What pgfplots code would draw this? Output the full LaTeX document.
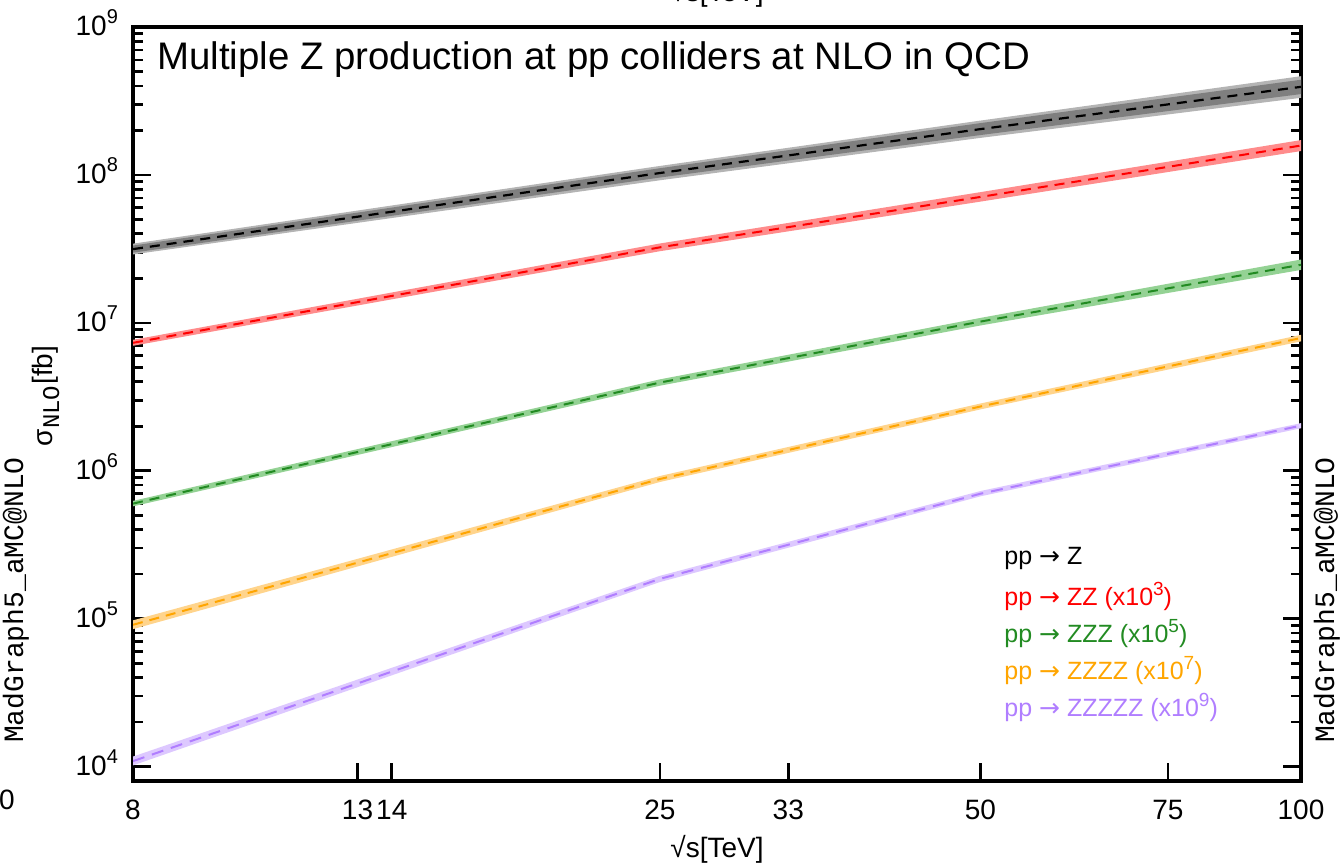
\documentclass[border=0pt]{standalone}
\usepackage{fontspec}
\setmainfont{Liberation Sans}
\setmonofont{Liberation Mono}
\newfontfamily\arrowfont{DejaVu Sans}
\usepackage{pgfplots}
\usepackage{pgfplotstable}
\usepgfplotslibrary{fillbetween}
\pgfplotsset{compat=1.18}

\definecolor{zband}{HTML}{7F7F7F}
\definecolor{zbandout}{HTML}{B4B4B4}
\definecolor{zzline}{HTML}{FF0000}
\definecolor{zzband}{HTML}{FF8C8C}
\definecolor{zzzline}{HTML}{228B22}
\definecolor{zzzband}{HTML}{94D294}
\definecolor{z4line}{HTML}{FFA500}
\definecolor{z4band}{HTML}{FFD48C}
\definecolor{z5line}{HTML}{B07EFF}
\definecolor{z5band}{HTML}{DDC8FF}

% sqrt(s) [TeV], central value, scale band (lo, hi), outer band for pp -> Z
\pgfplotstableread{
x    c       lo      hi      lo2     hi2
8    3.15e7  2.98e7  3.33e7  2.90e7  3.43e7
25   1.03e8  0.96e8  1.11e8  0.92e8  1.15e8
50   2.04e8  1.86e8  2.24e8  1.78e8  2.33e8
100  3.94e8  3.52e8  4.40e8  3.32e8  4.65e8
}\tabZ
\pgfplotstableread{
x    c       lo      hi
8    7.33e6  7.00e6  7.68e6
25   3.24e7  3.05e7  3.44e7
50   7.10e7  6.60e7  7.65e7
100  1.58e8  1.45e8  1.72e8
}\tabZZ
\pgfplotstableread{
x    c       lo      hi
8    6.00e5  5.75e5  6.26e5
25   3.95e6  3.76e6  4.15e6
50   1.02e7  9.60e6  1.08e7
100  2.47e7  2.28e7  2.68e7
}\tabZZZ
\pgfplotstableread{
x    c       lo      hi
8    9.10e4  8.50e4  9.75e4
25   8.80e5  8.40e5  9.22e5
50   2.72e6  2.60e6  2.85e6
100  7.90e6  7.50e6  8.30e6
}\tabZZZZ
\pgfplotstableread{
x    c       lo      hi
8    1.09e4  1.02e4  1.17e4
25   1.86e5  1.77e5  1.95e5
50   7.00e5  6.72e5  7.30e5
100  2.02e6  1.94e6  2.10e6
}\tabZZZZZ

\newcommand{\tfont}{\fontsize{14}{16}\selectfont}
\newcommand{\ten}[1]{10\raisebox{0.42em}{\fontsize{10}{11}\selectfont #1}}
\newcommand{\arr}{ {\arrowfont →} }
\newcommand{\expo}[1]{\raisebox{0.4em}{\fontsize{9.5}{10}\selectfont #1}}

\begin{document}
\begin{tikzpicture}
\begin{axis}[
    at={(66.5pt,43pt)}, anchor=south west,
    scale only axis, width=584pt, height=377pt,
    xmode=log, ymode=log,
    xmin=8, xmax=100, ymin=8000, ymax=1e9,
    xtick={8,13,14,25,33,50,75,100},
    xticklabels={8,13,14,25,33,50,75,100},
    xminorticks=false,
    xtick pos=bottom,
    ytick={1e4,1e5,1e6,1e7,1e8,1e9},
    yticklabels={\ten{4},\ten{5},\ten{6},\ten{7},\ten{8},\ten{9}},
    /pgf/number format/assume math mode=true,
    tick label style={font=\tfont},
    xticklabel style={yshift=-6pt},
    yticklabel style={xshift=-4pt, yshift=2pt},
    axis line style={line width=1.8pt},
    every tick/.style={black, line width=1.3pt},
    major tick length=9pt, minor tick length=5pt,
    tick align=inside,
]
% pp -> Z
\addplot[name path=zo1, draw=none] table[x=x, y=hi2] {\tabZ};
\addplot[name path=zo2, draw=none] table[x=x, y=lo2] {\tabZ};
\addplot[zbandout] fill between[of=zo1 and zo2];
\addplot[name path=zi1, draw=none] table[x=x, y=hi] {\tabZ};
\addplot[name path=zi2, draw=none] table[x=x, y=lo] {\tabZ};
\addplot[zband] fill between[of=zi1 and zi2];
\addplot[black, line width=1.1pt, dash pattern=on 5pt off 3.5pt] table[x=x, y=c] {\tabZ};
% pp -> ZZ
\addplot[name path=a1, draw=none] table[x=x, y=hi] {\tabZZ};
\addplot[name path=a2, draw=none] table[x=x, y=lo] {\tabZZ};
\addplot[zzband] fill between[of=a1 and a2];
\addplot[zzline, line width=1pt, dash pattern=on 5pt off 3.5pt] table[x=x, y=c] {\tabZZ};
% pp -> ZZZ
\addplot[name path=b1, draw=none] table[x=x, y=hi] {\tabZZZ};
\addplot[name path=b2, draw=none] table[x=x, y=lo] {\tabZZZ};
\addplot[zzzband] fill between[of=b1 and b2];
\addplot[zzzline, line width=1pt, dash pattern=on 5pt off 3.5pt] table[x=x, y=c] {\tabZZZ};
% pp -> ZZZZ
\addplot[name path=c1, draw=none] table[x=x, y=hi] {\tabZZZZ};
\addplot[name path=c2, draw=none] table[x=x, y=lo] {\tabZZZZ};
\addplot[z4band] fill between[of=c1 and c2];
\addplot[z4line, line width=1pt, dash pattern=on 5pt off 3.5pt] table[x=x, y=c] {\tabZZZZ};
% pp -> ZZZZZ
\addplot[name path=d1, draw=none] table[x=x, y=hi] {\tabZZZZZ};
\addplot[name path=d2, draw=none] table[x=x, y=lo] {\tabZZZZZ};
\addplot[z5band] fill between[of=d1 and d2];
\addplot[z5line, line width=1pt, dash pattern=on 6pt off 4pt] table[x=x, y=c] {\tabZZZZZ};
\end{axis}

% title and labels
\node[anchor=base west, inner sep=0, font=\fontsize{19.2}{21}\selectfont] at (78.5pt,398.5pt)
  {Multiple Z production at pp colliders at NLO in QCD};
\node[anchor=center, font=\tfont] at (358.5pt,9pt) {√s[TeV]};
\node[anchor=south, inner sep=0, font=\tfont] at (358.5pt,429.5pt) {√s[TeV]};
\node[rotate=90, font=\tfont] at (23pt,235.5pt) {σ\textsubscript{\ttfamily\fontsize{12}{13}\selectfont NLO}[fb]};
\node[rotate=90, font=\ttfamily\fontsize{14}{16}\selectfont] at (8pt,133.5pt) {MadGraph5\_aMC@NLO};
\node[rotate=90, font=\ttfamily\fontsize{14}{16}\selectfont] at (663.5pt,133.5pt) {MadGraph5\_aMC@NLO};
\node[font=\tfont] at (3.5pt,33.5pt) {0};

% legend
\begin{scope}[every node/.style={anchor=base west, inner sep=0, font=\fontsize{12.5}{14}\selectfont}]
\node[text=black]   at (502pt,151pt)   {pp\arr Z};
\node[text=zzline]  at (502pt,130.5pt) {pp\arr ZZ (x10\expo{3})};
\node[text=zzzline] at (502pt,112pt)   {pp\arr ZZZ (x10\expo{5})};
\node[text=z4line]  at (502pt,93.5pt)  {pp\arr ZZZZ (x10\expo{7})};
\node[text=z5line]  at (502pt,75pt)    {pp\arr ZZZZZ (x10\expo{9})};
\end{scope}

\pgfresetboundingbox
\path[use as bounding box] (0,0) rectangle (670pt,433.5pt);
\end{tikzpicture}
\end{document}
